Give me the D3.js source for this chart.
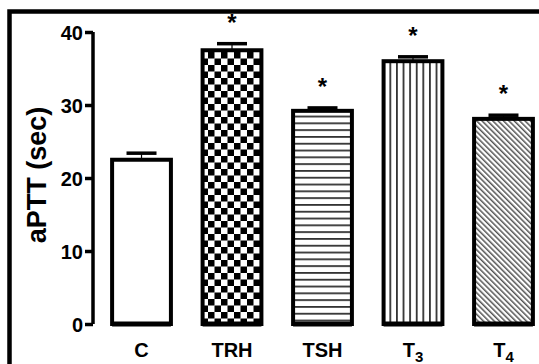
<!DOCTYPE html>
<html>
<head>
<meta charset="utf-8">
<script src="https://cdn.jsdelivr.net/npm/d3@7"></script>
<style>
  body { margin: 0; background: #fff; }
  text { font-family: Arial, "Liberation Sans", sans-serif; font-weight: bold; fill: #000; }
</style>
</head>
<body>
<script>
// data
var groups = ["C", "TRH", "TSH", "T3", "T4"];
var means = [22.5, 37.5, 29.2, 36.0, 28.1];
var sems = [0.9, 0.9, 0.4, 0.6, 0.5];
var signif = [false, true, true, true, true];
var yTicks = [0, 10, 20, 30, 40];
var fills = ["none", "checker", "hlines", "vlines", "diag"];

var W = 539, H = 364;
var svg = d3.select("body").append("svg").attr("width", W).attr("height", H);

// patterns
var defs = svg.append("defs");
var p1 = defs.append("pattern").attr("id", "checker").attr("patternUnits", "userSpaceOnUse")
  .attr("width", 13).attr("height", 13);
p1.append("rect").attr("width", 13).attr("height", 13).attr("fill", "#fff");
p1.append("rect").attr("width", 6.5).attr("height", 6.5).attr("fill", "#000");
p1.append("rect").attr("x", 6.5).attr("y", 6.5).attr("width", 6.5).attr("height", 6.5).attr("fill", "#000");

var p2 = defs.append("pattern").attr("id", "hlines").attr("patternUnits", "userSpaceOnUse")
  .attr("width", 10).attr("height", 6.8);
p2.append("rect").attr("width", 10).attr("height", 6.8).attr("fill", "#fff");
p2.append("rect").attr("y", 0).attr("width", 10).attr("height", 1.8).attr("fill", "#333");

var p3 = defs.append("pattern").attr("id", "vlines").attr("patternUnits", "userSpaceOnUse")
  .attr("width", 6.6).attr("height", 10);
p3.append("rect").attr("width", 6.6).attr("height", 10).attr("fill", "#fff");
p3.append("rect").attr("x", 0).attr("width", 1.8).attr("height", 10).attr("fill", "#333");

var p4 = defs.append("pattern").attr("id", "diag").attr("patternUnits", "userSpaceOnUse")
  .attr("width", 3.8).attr("height", 4).attr("patternTransform", "rotate(-45)");
p4.append("rect").attr("width", 3.8).attr("height", 4).attr("fill", "#fff");
p4.append("rect").attr("width", 1.5).attr("height", 4).attr("fill", "#555");

// frame
svg.append("path").attr("d", "M9.5," + H + " V11.5 H" + W)
  .attr("fill", "none").attr("stroke", "#000").attr("stroke-width", 4.5);

var x = d3.scaleBand().domain(groups).range([94, 551]).paddingInner(0.35).paddingOuter(0.2);
var y = d3.scaleLinear().domain([0, 40]).range([324, 32]);

// y axis
var yAxis = svg.append("g").attr("transform", "translate(93,0)")
  .call(d3.axisLeft(y).tickValues(yTicks).tickSize(8).tickPadding(2));
yAxis.select(".domain").attr("stroke-width", 3.5).attr("d", "M0," + y(40) + "V" + y(0));
yAxis.selectAll(".tick line").attr("stroke-width", 3.5);
yAxis.selectAll(".tick text").style("font-size", "20px").style("font-weight", "bold")
  .style("font-family", "Arial, 'Liberation Sans', sans-serif").attr("dy", "0.36em");

svg.append("text")
  .attr("transform", "translate(46,175) rotate(-90)")
  .attr("text-anchor", "middle")
  .style("font-size", "27px")
  .text("aPTT (sec)");

// bars
var bw = x.bandwidth();
var bars = svg.append("g").selectAll("g").data(groups).join("g");

// error bars
bars.append("line")
  .attr("x1", function (d) { return x(d) + bw / 2; })
  .attr("x2", function (d) { return x(d) + bw / 2; })
  .attr("y1", function (d, i) { return y(means[i]); })
  .attr("y2", function (d, i) { return y(means[i] + sems[i]); })
  .attr("stroke", "#000").attr("stroke-width", 1.2);
bars.append("line")
  .attr("x1", function (d) { return x(d) + bw / 2 - 15; })
  .attr("x2", function (d) { return x(d) + bw / 2 + 15; })
  .attr("y1", function (d, i) { return y(means[i] + sems[i]); })
  .attr("y2", function (d, i) { return y(means[i] + sems[i]); })
  .attr("stroke", "#000").attr("stroke-width", 3.5);

bars.append("rect")
  .attr("x", function (d) { return x(d); })
  .attr("width", bw)
  .attr("y", function (d, i) { return y(means[i]); })
  .attr("height", function (d, i) { return y(0) - y(means[i]); })
  .attr("fill", function (d, i) { return fills[i] === "none" ? "#fff" : "url(#" + fills[i] + ")"; })
  .attr("stroke", "#000").attr("stroke-width", 4);

bars.append("line")
  .attr("x1", function (d) { return x(d); })
  .attr("x2", function (d) { return x(d) + bw; })
  .attr("y1", y(0)).attr("y2", y(0))
  .attr("stroke", "#000").attr("stroke-width", 5);

// significance stars
bars.filter(function (d, i) { return signif[i]; }).append("text")
  .attr("x", function (d) { return x(d) + bw / 2; })
  .attr("y", function (d) { var i = groups.indexOf(d); return y(means[i] + sems[i]) - 13; })
  .attr("text-anchor", "middle")
  .style("font-size", "24px")
  .text("*");

// category labels
var lab = svg.append("g").selectAll("text").data(groups).join("text")
  .attr("x", function (d) { return x(d) + bw / 2; })
  .attr("y", 357)
  .attr("text-anchor", "middle")
  .style("font-size", "20px");
lab.each(function (d) {
  var t = d3.select(this);
  if (d === "T3" || d === "T4") {
    t.append("tspan").text("T");
    t.append("tspan").attr("dy", 5).style("font-size", "15px").text(d.slice(1));
  } else {
    t.text(d);
  }
});
</script>
</body>
</html>
